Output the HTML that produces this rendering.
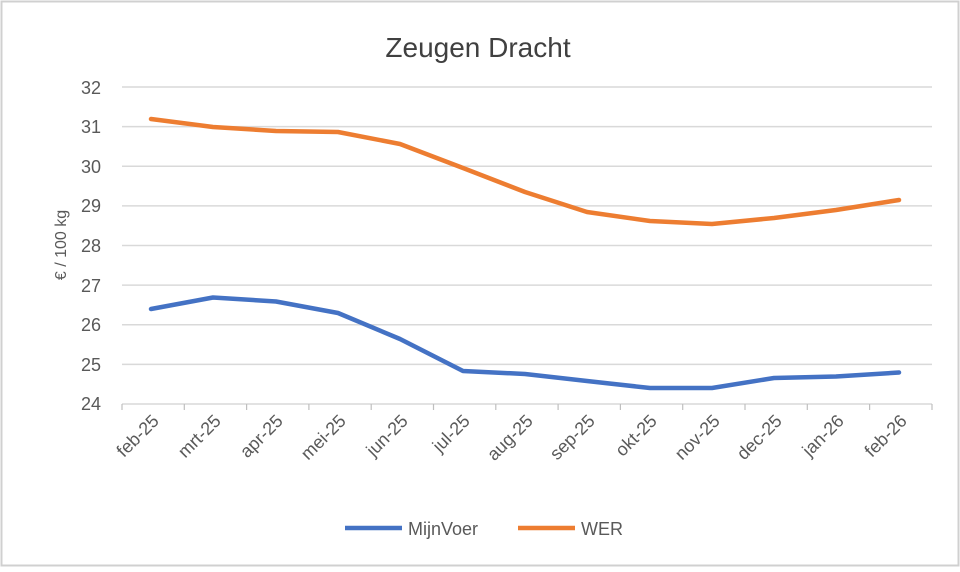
<!DOCTYPE html><html><head><style>body{margin:0;background:#fff}</style></head><body>
<svg width="960" height="567" xmlns="http://www.w3.org/2000/svg" font-family="Liberation Sans, sans-serif">
<rect x="1.5" y="1.5" width="957" height="564" fill="#fff" stroke="#d0d0d0" stroke-width="2"/>
<text x="478" y="57" font-size="28" fill="#404040" text-anchor="middle">Zeugen Dracht</text>
<g stroke="#d9d9d9" stroke-width="1.5">
<line x1="122" x2="932" y1="87" y2="87"/><line x1="122" x2="932" y1="126.6" y2="126.6"/><line x1="122" x2="932" y1="166.3" y2="166.3"/><line x1="122" x2="932" y1="205.9" y2="205.9"/><line x1="122" x2="932" y1="245.5" y2="245.5"/><line x1="122" x2="932" y1="285.1" y2="285.1"/><line x1="122" x2="932" y1="324.8" y2="324.8"/><line x1="122" x2="932" y1="364.4" y2="364.4"/><line x1="122" x2="932" y1="404" y2="404"/>
</g>
<g stroke="#bfbfbf" stroke-width="1.2">
<line x1="122" x2="122" y1="404" y2="410"/><line x1="184.3" x2="184.3" y1="404" y2="410"/><line x1="246.6" x2="246.6" y1="404" y2="410"/><line x1="308.9" x2="308.9" y1="404" y2="410"/><line x1="371.2" x2="371.2" y1="404" y2="410"/><line x1="433.5" x2="433.5" y1="404" y2="410"/><line x1="495.8" x2="495.8" y1="404" y2="410"/><line x1="558.1" x2="558.1" y1="404" y2="410"/><line x1="620.4" x2="620.4" y1="404" y2="410"/><line x1="682.7" x2="682.7" y1="404" y2="410"/><line x1="745" x2="745" y1="404" y2="410"/><line x1="807.3" x2="807.3" y1="404" y2="410"/><line x1="869.6" x2="869.6" y1="404" y2="410"/><line x1="932" x2="932" y1="404" y2="410"/>
</g>
<g font-size="18" fill="#595959" text-anchor="end">
<text x="101" y="94">32</text><text x="101" y="133">31</text><text x="101" y="173">30</text><text x="101" y="212">29</text><text x="101" y="252">28</text><text x="101" y="292">27</text><text x="101" y="331">26</text><text x="101" y="371">25</text><text x="101" y="410">24</text>
</g>
<text transform="translate(66,245) rotate(-90)" font-size="16" fill="#595959" text-anchor="middle">€ / 100 kg</text>
<g font-size="18" fill="#595959" text-anchor="end">
<text transform="translate(160,422) rotate(-45)">feb-25</text>
<text transform="translate(222,422) rotate(-45)">mrt-25</text>
<text transform="translate(284,422) rotate(-45)">apr-25</text>
<text transform="translate(347,422) rotate(-45)">mei-25</text>
<text transform="translate(409,422) rotate(-45)">jun-25</text>
<text transform="translate(471,422) rotate(-45)">jul-25</text>
<text transform="translate(534,422) rotate(-45)">aug-25</text>
<text transform="translate(596,422) rotate(-45)">sep-25</text>
<text transform="translate(658,422) rotate(-45)">okt-25</text>
<text transform="translate(721,422) rotate(-45)">nov-25</text>
<text transform="translate(783,422) rotate(-45)">dec-25</text>
<text transform="translate(845,422) rotate(-45)">jan-26</text>
<text transform="translate(908,422) rotate(-45)">feb-26</text>
</g>
<polyline fill="none" stroke="#ed7d31" stroke-width="4.5" stroke-linejoin="round" stroke-linecap="round" points="151,119 213,127 276,131 338,132 400,144 463,168 525,192 587,212 650,221 712,224 774,218 836,210 899,200"/>
<polyline fill="none" stroke="#4472c4" stroke-width="4.5" stroke-linejoin="round" stroke-linecap="round" points="151,309 213,297.5 276,301.5 338,313 400,339 463,371 525,374 587,381 650,388 712,388 774,378 836,376.5 899,372.5"/>
<line x1="345" x2="402" y1="528" y2="528" stroke="#4472c4" stroke-width="4.5"/>
<text x="408" y="535" font-size="18" fill="#595959">MijnVoer</text>
<line x1="518" x2="575" y1="528" y2="528" stroke="#ed7d31" stroke-width="4.5"/>
<text x="581" y="535" font-size="18" fill="#595959">WER</text>
</svg>
</body></html>
